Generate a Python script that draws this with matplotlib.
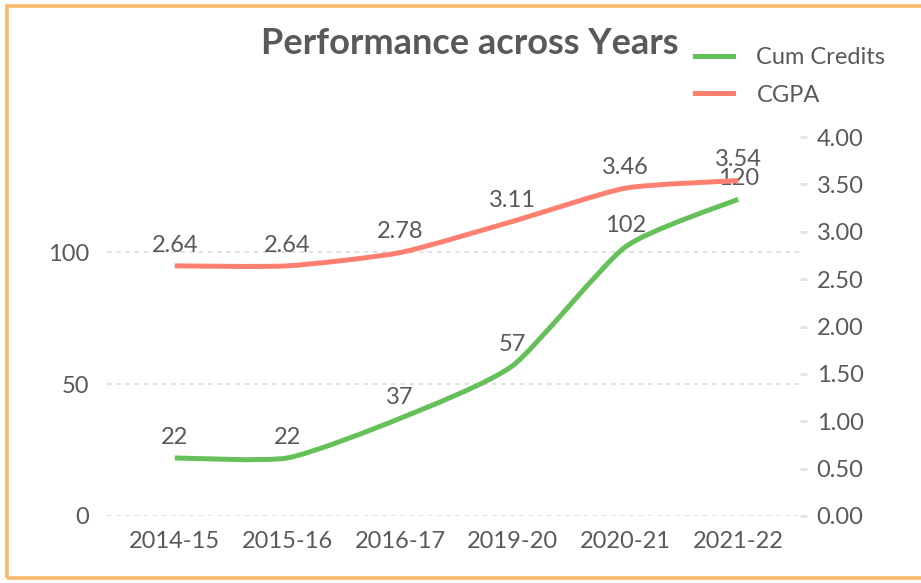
import numpy as np
import matplotlib
matplotlib.use("Agg")
import matplotlib.pyplot as plt
from matplotlib.path import Path
from matplotlib.patches import PathPatch, Rectangle

years = ["2014-15", "2015-16", "2016-17", "2019-20", "2020-21", "2021-22"]
cum_credits = [22, 22, 37, 57, 102, 120]
cgpa = [2.64, 2.64, 2.78, 3.11, 3.46, 3.54]

GREEN = "#66c05a"
RED = "#ff8070"
TEXT = "#595959"
FS = 17

plt.rcParams["font.family"] = ["Lato", "DejaVu Sans"]


def smooth_path(xs, ys, k=10.0):
    """Gently smoothed line: cubic Bezier segments through the points."""
    pts = np.column_stack([xs, ys]).astype(float)
    verts, codes = [pts[0]], [Path.MOVETO]
    n = len(pts)
    for i in range(n - 1):
        p0 = pts[max(i - 1, 0)]
        p1, p2 = pts[i], pts[i + 1]
        p3 = pts[min(i + 2, n - 1)]
        c1 = p1 + (p2 - p0) / k
        c2 = p2 - (p3 - p1) / k
        verts += [c1, c2, p2]
        codes += [Path.CURVE4] * 3
    return Path(verts, codes)


fig = plt.figure(figsize=(9.21, 5.83), dpi=100)
fig.patches.append(Rectangle((7 / 921, 5 / 583), 1.1, 572 / 583, transform=fig.transFigure,
                             fill=False, edgecolor="#f9b86c", linewidth=2.6))

ax = fig.add_axes([107 / 921, 1 - 516 / 583, 693 / 921, 379 / 583])
ax2 = ax.twinx()
x = np.arange(len(years))

ax.set_xlim(-0.602, 5.549)
ax.set_ylim(0, 143.6)
ax2.set_ylim(0, 4.0)

for a in (ax, ax2):
    for sp in a.spines.values():
        sp.set_visible(False)

ax.set_yticks([0, 50, 100])
ax.tick_params(axis="y", length=0, pad=13, labelsize=FS, labelcolor=TEXT)
ax.set_xticks(x)
ax.set_xticklabels(years)
ax.tick_params(axis="x", length=0, pad=11, labelsize=FS, labelcolor=TEXT)
ax.grid(axis="y", color="#d9d9d9", linestyle=(0, (3, 3)), linewidth=1.1)
ax.set_axisbelow(True)

ax2.set_yticks(np.arange(0, 4.01, 0.5))
ax2.set_yticklabels([f"{v:.2f}" for v in np.arange(0, 4.01, 0.5)])
ax2.tick_params(axis="y", length=5, width=2, color="#e3e3e3", pad=7,
                labelsize=FS, labelcolor=TEXT)

# series lines
ax.add_patch(PathPatch(smooth_path(x, cum_credits), fill=False, edgecolor=GREEN,
                       linewidth=3.6, capstyle="butt", zorder=3))
ax2.add_patch(PathPatch(smooth_path(x, cgpa), fill=False, edgecolor=RED,
                        linewidth=3.6, capstyle="butt", zorder=3))

for xi, v in zip(x, cum_credits):
    ax.annotate(f"{v}", (xi, v), xytext=(0, 15), textcoords="offset points",
                ha="center", va="center", fontsize=FS, color=TEXT, zorder=5)
for xi, v in zip(x, cgpa):
    ax2.annotate(f"{v:.2f}", (xi, v), xytext=(0, 15), textcoords="offset points",
                 ha="center", va="center", fontsize=FS, color=TEXT, zorder=5)

fig.text(470 / 921, 1 - 44 / 583, "Performance across Years", ha="center", va="center",
         fontsize=26, fontweight="bold", color=TEXT)

# legend
ax.plot([], [], color=GREEN, linewidth=3.6, label="Cum Credits")
ax.plot([], [], color=RED, linewidth=3.6, label="CGPA")
fig.legend(loc="upper left", bbox_to_anchor=(695 / 921, 1 - 47 / 583), frameon=False,
           fontsize=FS, labelcolor=TEXT, handlelength=1.6, handletextpad=1.0,
           labelspacing=0.7, borderaxespad=0, borderpad=0)

fig.savefig("out.png", dpi=100)
